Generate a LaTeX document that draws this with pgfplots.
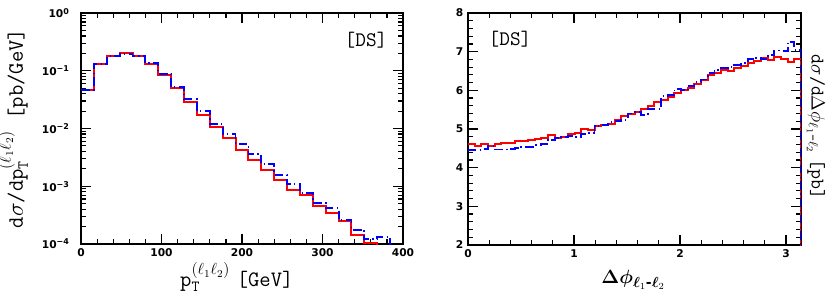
\documentclass[border=0pt]{standalone}
\usepackage{amsmath}
\usepackage{pgfplots}
\pgfplotsset{compat=1.18}
\usepackage[no-math]{fontspec}
\setmainfont{DejaVu Sans}
\newfontfamily\tickfont{DejaVu Sans}
\newcommand\labfont{\ttfamily\fontsize{16.5}{20}\selectfont}
\pgfplotsset{
  myax/.style={
    scale only axis,
    axis line style={line width=1.1pt},
    tick style={black, line width=0.9pt},
    major tick length=7.5pt, minor tick length=3.75pt,
    tick label style={font=\tickfont\bfseries\fontsize{8}{9.5}\selectfont},
    /pgf/number format/assume math mode=true,
    label style={font=\labfont},
  },
  redh/.style={red, line width=1.5pt, const plot mark left, mark=none},
  blueh/.style={blue, line width=1.4pt, const plot mark left, mark=none, dash pattern=on 6.5pt off 2.5pt on 1pt off 2.5pt},
}
\begin{document}
\begin{tikzpicture}
\useasboundingbox (0,0) rectangle (622.5pt,222.75pt);
\begin{axis}[myax, at={(60.75pt,39.75pt)}, anchor=south west,
  width=241.5pt, height=173.25pt,
  xmin=0, xmax=400, ymin=1e-4, ymax=1, ymode=log,
  xtick={0,100,200,300,400}, minor x tick num=4,
  ytick={1e-4,1e-3,1e-2,1e-1,1},
  yticklabels={10\textsuperscript{−4},10\textsuperscript{−3},10\textsuperscript{−2},10\textsuperscript{−1},10\textsuperscript{0}},
  yticklabel style={xshift=-5pt},
  xlabel={p$_{\texttt{T}}^{(\ell_1\ell_2)}$\hspace{0.3em}[GeV]},
  ylabel={d$\sigma$/dp$_{\texttt{T}}^{(\ell_1\ell_2)}$ [pb/GeV]},
  xlabel style={at={(axis description cs:0.484,-0.185)}, anchor=base},
  ylabel style={at={(axis description cs:-0.21,0.5)}, anchor=center},
]
\addplot[redh] coordinates {(0,0.047)(16,0.131)(32,0.182)(48,0.203)(64,0.178)(80,0.133)(96,0.0855)(112,0.050)(128,0.0288)(144,0.0169)(160,0.0108)(176,0.00694)(192,0.0043)(208,0.00281)(224,0.00189)(240,0.0013)(256,0.00087)(272,0.000714)(288,0.000449)(304,0.00034)(320,0.000247)(336,0.000143)(352,0.000106)(368,0.00001)};
\addplot[blueh] coordinates {(0,0.047)(16,0.13)(32,0.178)(48,0.195)(64,0.178)(80,0.136)(96,0.089)(112,0.052)(128,0.0325)(144,0.0198)(160,0.0121)(176,0.0079)(192,0.0054)(208,0.00362)(224,0.0024)(240,0.00159)(256,0.00109)(272,0.000764)(288,0.00051)(304,0.00042)(320,0.000257)(336,0.000177)(352,0.000122)(368,0.000134)(384,0.00001)};
\end{axis}
\begin{axis}[myax, at={(351pt,39pt)}, anchor=south west,
  width=249.75pt, height=174pt,
  xmin=0, xmax=3.14159, ymin=2, ymax=8,
  xtick={0,1,2,3}, ytick={2,3,4,5,6,7,8},
  minor x tick num=4, minor y tick num=4,
]
\addplot[redh] coordinates {(0,4.62)(0.0628,4.56)(0.1257,4.62)(0.1885,4.55)(0.2513,4.60)(0.3142,4.63)(0.3770,4.65)(0.4398,4.68)(0.5027,4.69)(0.5655,4.72)(0.6283,4.74)(0.6912,4.78)(0.7540,4.84)(0.8168,4.76)(0.8796,4.80)(0.9425,4.86)(1.0053,4.90)(1.0681,5.00)(1.1310,4.97)(1.1938,5.09)(1.2566,5.10)(1.3195,5.14)(1.3823,5.22)(1.4451,5.34)(1.5080,5.38)(1.5708,5.43)(1.6336,5.52)(1.6965,5.60)(1.7593,5.70)(1.8221,5.76)(1.8850,5.84)(1.9478,5.93)(2.0106,6.00)(2.0735,6.05)(2.1363,6.17)(2.1991,6.28)(2.2619,6.40)(2.3248,6.46)(2.3876,6.53)(2.4504,6.49)(2.5133,6.59)(2.5761,6.63)(2.6389,6.70)(2.7018,6.77)(2.7646,6.84)(2.8274,6.79)(2.8903,6.86)(2.9531,6.80)(3.0159,6.74)(3.0788,6.80)(3.1416,1.5)};
\addplot[blueh] coordinates {(0,4.45)(0.0628,4.46)(0.1257,4.48)(0.1885,4.55)(0.2513,4.47)(0.3142,4.47)(0.3770,4.49)(0.4398,4.50)(0.5027,4.53)(0.5655,4.54)(0.6283,4.58)(0.6912,4.61)(0.7540,4.72)(0.8168,4.76)(0.8796,4.79)(0.9425,4.82)(1.0053,4.80)(1.0681,4.86)(1.1310,4.90)(1.1938,5.08)(1.2566,5.10)(1.3195,5.17)(1.3823,5.20)(1.4451,5.24)(1.5080,5.40)(1.5708,5.43)(1.6336,5.36)(1.6965,5.52)(1.7593,5.52)(1.8221,5.85)(1.8850,5.88)(1.9478,6.03)(2.0106,6.00)(2.0735,6.11)(2.1363,6.22)(2.1991,6.28)(2.2619,6.45)(2.3248,6.53)(2.3876,6.57)(2.4504,6.61)(2.5133,6.66)(2.5761,6.70)(2.6389,6.80)(2.7018,6.84)(2.7646,6.80)(2.8274,6.92)(2.8903,7.03)(2.9531,7.02)(3.0159,7.25)(3.0788,7.05)(3.1416,1.5)};
\end{axis}
\node[font=\ttfamily\fontsize{15.5}{18}\selectfont] at (274.5pt,192.75pt) {\relax[DS]};
\node[font=\ttfamily\fontsize{15.5}{18}\selectfont] at (382.5pt,193.5pt) {\relax[DS]};
\node[font=\fontsize{15}{18}\selectfont, anchor=base] at (475pt,10.3pt) {$\boldsymbol{\Delta\phi}_{\boldsymbol{\ell}_{1}\text{\bfseries -}\boldsymbol{\ell}_{2}}$};
\node[font=\ttfamily\fontsize{14.5}{18}\selectfont, rotate=-90, anchor=center] at (612pt,127.5pt) {d$\sigma$/d$\Delta\phi_{\ell_1\text{-}\ell_2}$\hspace{0.3em}[pb]};
\end{tikzpicture}
\end{document}
